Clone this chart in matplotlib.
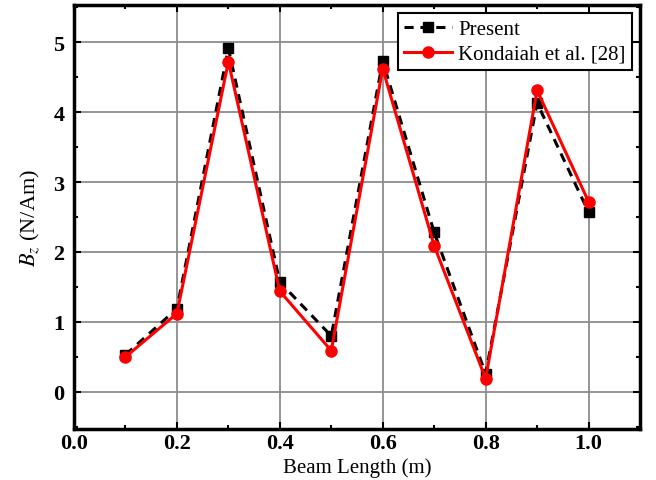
import matplotlib
matplotlib.use("Agg")
import matplotlib.pyplot as plt
from matplotlib.ticker import MultipleLocator

plt.rcParams["font.family"] = ["Liberation Serif", "DejaVu Serif"]
plt.rcParams["mathtext.fontset"] = "stix"

beam_length = [0.1, 0.2, 0.3, 0.4, 0.5, 0.6, 0.7, 0.8, 0.9, 1.0]
present = [0.53, 1.19, 4.91, 1.57, 0.80, 4.73, 2.28, 0.26, 4.13, 2.57]
kondaiah = [0.50, 1.12, 4.72, 1.44, 0.59, 4.62, 2.09, 0.19, 4.31, 2.72]

fig = plt.figure(figsize=(6.56, 4.81), dpi=100)
ax = fig.add_axes([0.1128, 0.106, 0.8628, 0.8815])

ax.plot(beam_length, present, color="black", linestyle=(0, (3, 2.2)), linewidth=2.2,
        marker="s", markersize=7.5, label="Present", zorder=3)
ax.plot(beam_length, kondaiah, color="#ff0000", linestyle="-", linewidth=2.2,
        marker="o", markersize=8, label="Kondaiah et al. [28]", zorder=4)

ax.set_xlim(0, 1.1)
ax.set_ylim(-0.53, 5.53)
ax.xaxis.set_major_locator(MultipleLocator(0.2))
ax.xaxis.set_minor_locator(MultipleLocator(0.1))
ax.yaxis.set_major_locator(MultipleLocator(1))
ax.yaxis.set_minor_locator(MultipleLocator(0.5))
ax.xaxis.set_major_formatter(matplotlib.ticker.FormatStrFormatter("%.1f"))

ax.grid(True, which="major", color="#8c8c8c", linewidth=1.3)
ax.set_axisbelow(True)
for s in ax.spines.values():
    s.set_linewidth(2.5)
ax.tick_params(which="both", direction="in", top=True, right=True, width=1.5)
ax.tick_params(which="major", length=5, labelsize=16)
ax.tick_params(axis="x", which="major", pad=3)
ax.tick_params(axis="y", which="major", pad=7)
ax.tick_params(which="minor", length=3)
for lbl in ax.get_xticklabels() + ax.get_yticklabels():
    lbl.set_fontweight("bold")

ax.set_xlabel("Beam Length (m)", fontsize=15, labelpad=3)
ax.set_ylabel(r"$B_z$ (N/Am)", fontsize=16, labelpad=8)

leg = ax.legend(loc="upper right", fontsize=15, frameon=True, fancybox=False,
                edgecolor="black", framealpha=1, borderaxespad=0.4,
                handlelength=2.3, borderpad=0.3, labelspacing=0.25, handletextpad=0.3)
leg.get_frame().set_linewidth(1.5)

fig.savefig("out.png", dpi=100)
